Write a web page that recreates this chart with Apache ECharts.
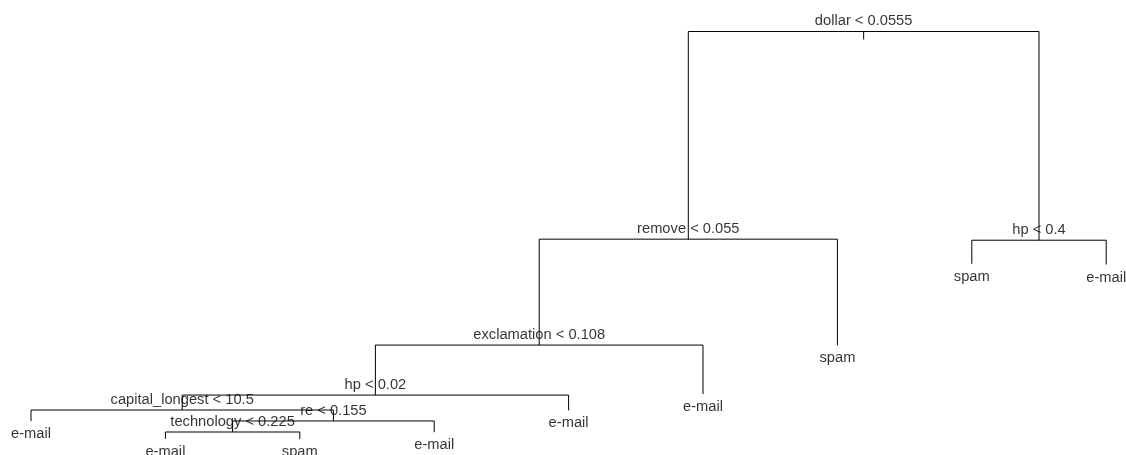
<!DOCTYPE html>
<html>
<head>
<meta charset="utf-8">
<script src="https://cdn.jsdelivr.net/npm/echarts@6/dist/echarts.min.js"></script>
<style>
  html, body { margin: 0; padding: 0; background: #fff; }
  #chart { width: 1126px; height: 455px; }
</style>
</head>
<body>
<div id="chart"></div>
<script>
// Classification tree for spam vs e-mail.
// Nodes use binary numbering: the children of node n are 2n (left) and 2n+1 (right).
const nodeIds = [1, 2, 4, 8, 16, 32, 33, 66, 132, 133, 67, 17, 9, 5, 3, 6, 7];
const nodeLabels = [
  'dollar < 0.0555', 'remove < 0.055', 'exclamation < 0.108', 'hp < 0.02',
  'capital_longest < 10.5', 'e-mail', 're < 0.155', 'technology < 0.225',
  'e-mail', 'spam', 'e-mail', 'e-mail', 'e-mail', 'spam',
  'hp < 0.4', 'spam', 'e-mail'
];
// Node deviance, which sets the vertical position of each node.
const nodeDeviance = [
  6170, 3180, 1655, 935, 720, 560, 562, 403, 305, 300, 400, 715, 950, 1650,
  3165, 2825, 2815
];

const ROOT_TICK = 115; // length of the stub under the root split, in deviance units

const dev = {}, label = {};
nodeIds.forEach((id, i) => { dev[id] = nodeDeviance[i]; label[id] = nodeLabels[i]; });
const isLeaf = id => !(2 * id in dev);

// Leaves are spaced evenly left to right; each split sits midway between its children.
const xPos = {};
let leafCount = 0;
(function place(id) {
  if (isLeaf(id)) { xPos[id] = ++leafCount; return; }
  place(2 * id); place(2 * id + 1);
  xPos[id] = (xPos[2 * id] + xPos[2 * id + 1]) / 2;
})(1);

const branchLines = [];
const splitPoints = [];
const leafPoints = [];
nodeIds.forEach(id => {
  if (isLeaf(id)) {
    leafPoints.push({ value: [xPos[id], dev[id]], name: label[id] });
  } else {
    const l = 2 * id, r = 2 * id + 1;
    branchLines.push({ coords: [[xPos[l], dev[l]], [xPos[l], dev[id]], [xPos[r], dev[id]], [xPos[r], dev[r]]] });
    splitPoints.push({ value: [xPos[id], dev[id]], name: label[id] });
  }
});
branchLines.push({ coords: [[xPos[1], dev[1]], [xPos[1], dev[1] - ROOT_TICK]] });

const FONT = '"Liberation Sans", Arial, sans-serif';
const chart = echarts.init(document.getElementById('chart'), null, { renderer: 'canvas' });
chart.setOption({
  animation: false,
  backgroundColor: '#ffffff',
  grid: { left: 0, right: 0, top: 0, bottom: 0 },
  xAxis: { type: 'value', min: 0.7693, max: 9.1473, show: false },
  yAxis: { type: 'value', min: 72, max: 6624, show: false },
  series: [
    {
      type: 'lines',
      coordinateSystem: 'cartesian2d',
      polyline: true,
      silent: true,
      lineStyle: { color: '#000', width: 1, opacity: 1 },
      data: branchLines
    },
    {
      type: 'scatter',
      symbolSize: 0,
      silent: true,
      data: splitPoints,
      label: {
        show: true, position: 'inside', offset: [0, -10.5],
        formatter: p => p.name,
        color: '#000', fontFamily: FONT, fontSize: 14.7
      }
    },
    {
      type: 'scatter',
      symbolSize: 0,
      silent: true,
      data: leafPoints,
      label: {
        show: true, position: 'inside', offset: [0, 13],
        formatter: p => p.name,
        color: '#000', fontFamily: FONT, fontSize: 14.7
      }
    }
  ]
});
</script>
</body>
</html>
